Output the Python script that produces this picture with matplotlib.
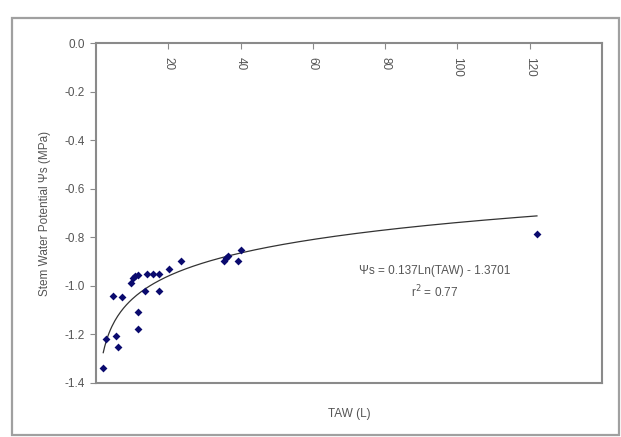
import numpy as np
import matplotlib
matplotlib.use("Agg")
import matplotlib.pyplot as plt
from matplotlib.patches import Rectangle

# TAW (L) vs stem water potential (MPa)
taw = [1.8, 2.7, 4.6, 5.5, 6.2, 7.2, 9.7, 10.3, 10.9, 11.5, 11.5, 11.5,
       13.6, 14.1, 15.7, 17.4, 17.3, 20.1, 23.5, 35.3, 35.9, 36.5, 39.3,
       40.2, 122.0]
psi = [-1.337, -1.219, -1.042, -1.206, -1.253, -1.047, -0.989, -0.969,
       -0.959, -0.955, -1.106, -1.176, -1.020, -0.950, -0.950, -0.951,
       -1.020, -0.929, -0.899, -0.896, -0.887, -0.876, -0.896, -0.852,
       -0.788]
xticks = [20, 40, 60, 80, 100, 120]
yticks = [0.0, -0.2, -0.4, -0.6, -0.8, -1.0, -1.2, -1.4]
coef_a = 0.137
coef_b = -1.3701

grey = "#555555"
plt.rcParams['font.family'] = ['Liberation Sans', 'DejaVu Sans']

fig = plt.figure(figsize=(6.21, 4.37), dpi=100)
fig.patches.append(Rectangle((0.019, 0.005), 0.978, 0.954, transform=fig.transFigure,
                             fill=False, edgecolor="#a0a0a0", lw=1.6))
ax = fig.add_axes([0.1546, 0.1236, 0.8148, 0.778])

ax.scatter(taw, psi, marker="D", s=16, color="#0a0a6e", zorder=3, linewidths=0)
xf = np.linspace(2.0, 122.0, 300)
ax.plot(xf, coef_a * np.log(xf) + coef_b, color="#333333", lw=0.9)

ax.set_xlim(0, 140)
ax.set_ylim(-1.4, 0.0)
for s in ax.spines.values():
    s.set_color("#8a8a8a")
    s.set_linewidth(1.5)

ax.xaxis.tick_top()
ax.set_xticks(xticks)
ax.tick_params(axis="x", direction="in", length=4, color="#8a8a8a", labeltop=False)
for t in xticks:
    ax.annotate(str(t), xy=(t, 1), xycoords=("data", "axes fraction"),
                xytext=(0, -10), textcoords="offset points", rotation=-90,
                ha="center", va="top", fontsize=8.5, color=grey)

ax.set_yticks(yticks)
ax.set_yticklabels([f"{v:.1f}" for v in yticks], fontsize=8.5, color=grey)
ax.tick_params(axis="y", direction="out", length=4, color="#8a8a8a", pad=4)

ax.set_ylabel("Stem Water Potential Ψs (MPa)", fontsize=8.5, color=grey, labelpad=10)
ax.set_xlabel("TAW (L)", fontsize=8.5, color=grey, labelpad=18)

ax.text(0.67, 0.328, "Ψs = 0.137Ln(TAW) - 1.3701", transform=ax.transAxes,
        ha="center", va="center", fontsize=8.5, color=grey)
ax.text(0.67, 0.268, "r$^2$ = 0.77", transform=ax.transAxes,
        ha="center", va="center", fontsize=8.5, color=grey)

fig.savefig("out.png", dpi=100)
